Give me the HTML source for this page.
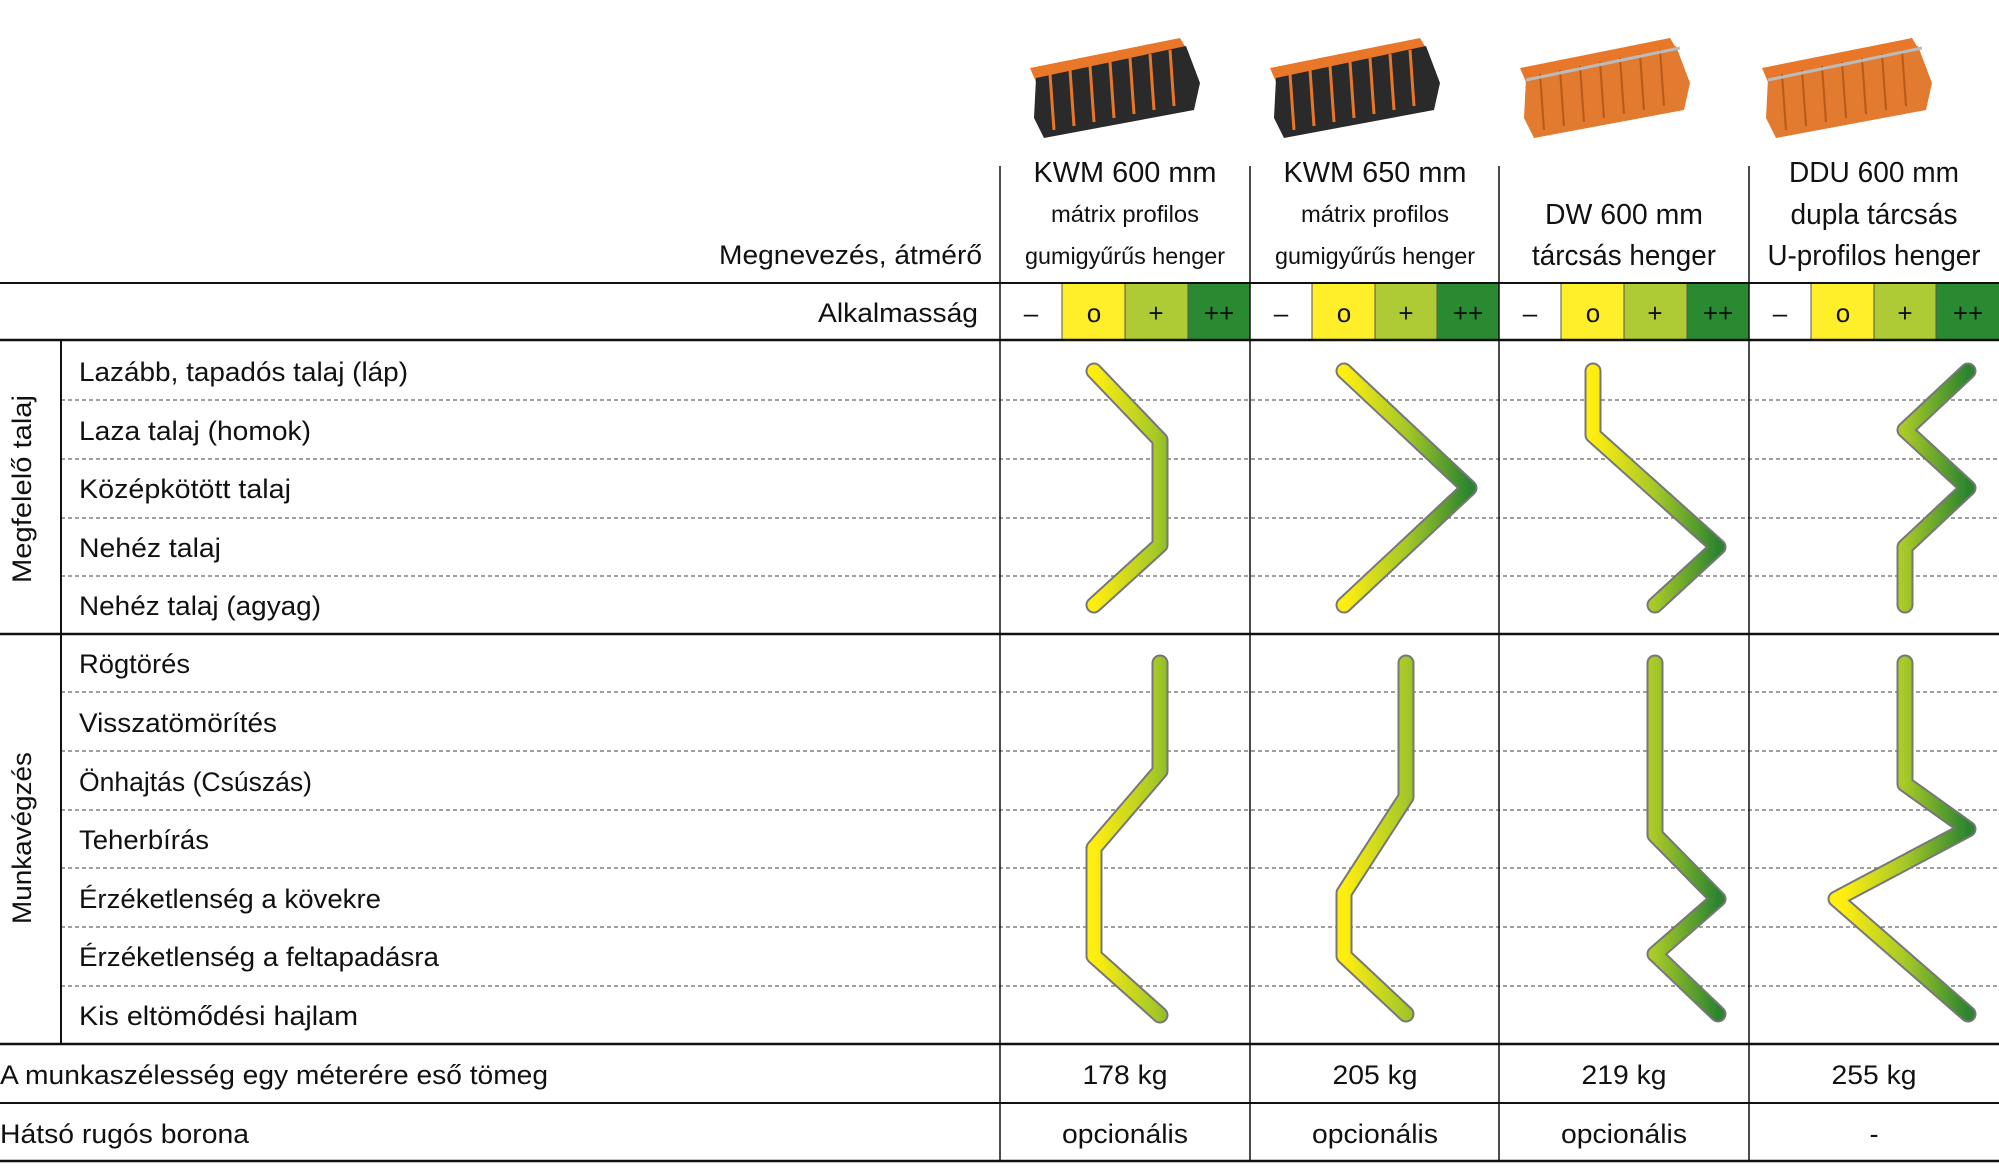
<!DOCTYPE html>
<html><head><meta charset="utf-8"><style>
html,body{margin:0;padding:0;background:#fff;}
svg{display:block;}
text{font-family:"Liberation Sans",sans-serif;fill:#111;}
</style></head><body>
<svg width="1999" height="1174" viewBox="0 0 1999 1174" xmlns="http://www.w3.org/2000/svg">
<defs>
<linearGradient id="g" x1="94" y1="0" x2="219" y2="0" gradientUnits="userSpaceOnUse">
<stop offset="0" stop-color="#ffee10"/><stop offset="0.5" stop-color="#a5c828"/><stop offset="1" stop-color="#2c8430"/>
</linearGradient>
<g id="roller">
<path d="M0,30 L150,0 L156,10 L6,44 Z" fill="#e8772a"/>
<path d="M6,40 L156,8 L170,45 L164,72 L14,100 L4,80 Z" fill="#2a2a2a"/>
<g stroke="#e8772a" stroke-width="3">
<line x1="20" y1="36" x2="24" y2="92"/><line x1="40" y1="32" x2="44" y2="88"/><line x1="60" y1="28" x2="64" y2="84"/><line x1="80" y1="24" x2="84" y2="80"/><line x1="100" y1="20" x2="104" y2="76"/><line x1="120" y1="16" x2="124" y2="72"/><line x1="140" y1="12" x2="144" y2="68"/>
</g>
</g>
<g id="rollerO">
<path d="M0,30 L150,0 L156,10 L6,44 Z" fill="#e8772a"/>
<path d="M6,40 L156,8 L170,45 L164,72 L14,100 L4,80 Z" fill="#e27a30"/>
<g stroke="#b85a18" stroke-width="2">
<line x1="20" y1="36" x2="24" y2="92"/><line x1="40" y1="32" x2="44" y2="88"/><line x1="60" y1="28" x2="64" y2="84"/><line x1="80" y1="24" x2="84" y2="80"/><line x1="100" y1="20" x2="104" y2="76"/><line x1="120" y1="16" x2="124" y2="72"/><line x1="140" y1="12" x2="144" y2="68"/>
</g>
<line x1="6" y1="42" x2="160" y2="10" stroke="#bbb" stroke-width="3"/>
</g>
</defs>

<!-- roller images -->
<use href="#roller" transform="translate(1030,38)"/>
<use href="#roller" transform="translate(1270,38)"/>
<use href="#rollerO" transform="translate(1520,38)"/>
<use href="#rollerO" transform="translate(1762,38)"/>

<!-- suitability bands -->
<g>
<rect x="1062" y="283" width="63" height="57" fill="#ffee2a"/><rect x="1125" y="283" width="63" height="57" fill="#aecb36"/><rect x="1188" y="283" width="62" height="57" fill="#2a8a32"/>
<rect x="1312" y="283" width="63" height="57" fill="#ffee2a"/><rect x="1375" y="283" width="62" height="57" fill="#aecb36"/><rect x="1437" y="283" width="62" height="57" fill="#2a8a32"/>
<rect x="1561" y="283" width="63" height="57" fill="#ffee2a"/><rect x="1624" y="283" width="63" height="57" fill="#aecb36"/><rect x="1687" y="283" width="62" height="57" fill="#2a8a32"/>
<rect x="1811" y="283" width="63" height="57" fill="#ffee2a"/><rect x="1874" y="283" width="62" height="57" fill="#aecb36"/><rect x="1936" y="283" width="63" height="57" fill="#2a8a32"/>
</g>
<g stroke="#555" stroke-width="1">
<line x1="1062" y1="283" x2="1062" y2="340"/><line x1="1125" y1="283" x2="1125" y2="340"/><line x1="1188" y1="283" x2="1188" y2="340"/>
<line x1="1312" y1="283" x2="1312" y2="340"/><line x1="1375" y1="283" x2="1375" y2="340"/><line x1="1437" y1="283" x2="1437" y2="340"/>
<line x1="1561" y1="283" x2="1561" y2="340"/><line x1="1624" y1="283" x2="1624" y2="340"/><line x1="1687" y1="283" x2="1687" y2="340"/>
<line x1="1811" y1="283" x2="1811" y2="340"/><line x1="1874" y1="283" x2="1874" y2="340"/><line x1="1936" y1="283" x2="1936" y2="340"/>
</g>
<g font-size="26" text-anchor="middle">
<text x="1031" y="322">–</text><text x="1094" y="322">o</text><text x="1156" y="322">+</text><text x="1219" y="322">++</text>
<text x="1281" y="322">–</text><text x="1344" y="322">o</text><text x="1406" y="322">+</text><text x="1468" y="322">++</text>
<text x="1530" y="322">–</text><text x="1593" y="322">o</text><text x="1655" y="322">+</text><text x="1718" y="322">++</text>
<text x="1780" y="322">–</text><text x="1843" y="322">o</text><text x="1905" y="322">+</text><text x="1968" y="322">++</text>
</g>

<!-- dashed lines -->
<g stroke="#666" stroke-width="1.3" stroke-dasharray="4,3">
<line x1="61" y1="400" x2="1999" y2="400"/><line x1="61" y1="459" x2="1999" y2="459"/><line x1="61" y1="518" x2="1999" y2="518"/><line x1="61" y1="576" x2="1999" y2="576"/>
<line x1="61" y1="692" x2="1999" y2="692"/><line x1="61" y1="751" x2="1999" y2="751"/><line x1="61" y1="810" x2="1999" y2="810"/><line x1="61" y1="868" x2="1999" y2="868"/><line x1="61" y1="927" x2="1999" y2="927"/><line x1="61" y1="986" x2="1999" y2="986"/>
</g>

<!-- solid lines -->
<g stroke="#111" stroke-width="2">
<line x1="0" y1="283" x2="1999" y2="283"/><line x1="0" y1="340" x2="1999" y2="340" stroke-width="2.5"/>
<line x1="0" y1="634" x2="1999" y2="634" stroke-width="2.5"/>
<line x1="0" y1="1044" x2="1999" y2="1044" stroke-width="2.5"/><line x1="0" y1="1103" x2="1999" y2="1103"/><line x1="0" y1="1161" x2="1999" y2="1161" stroke-width="2.5"/>
<line x1="61" y1="340" x2="61" y2="1044"/>
</g>
<g stroke="#111" stroke-width="1.5">
<line x1="1000" y1="166" x2="1000" y2="1161"/><line x1="1250" y1="166" x2="1250" y2="1161"/><line x1="1499" y1="166" x2="1499" y2="1161"/><line x1="1749" y1="166" x2="1749" y2="1161"/>
</g>

<!-- curves -->
<g fill="none" stroke-linecap="round" stroke-linejoin="round">
<g stroke="#777" stroke-width="17">
<path id="c1" d="M1094,371 L1160,440 L1160,545 L1094,605"/>
<path d="M1344,371 L1469,488 L1344,605"/>
<path d="M1593,371 L1593,435 L1718,547 L1655,605"/>
<path d="M1968,371 L1905,430 L1968,488 L1905,547 L1905,605"/>
<path d="M1160,663 L1160,771 L1094,848 L1094,956 L1160,1015"/>
<path d="M1406,663 L1406,797 L1344,893 L1344,956 L1406,1014"/>
<path d="M1655,663 L1655,835 L1718,899 L1655,954 L1718,1014"/>
<path d="M1905,663 L1905,784 L1968,829 L1836,899 L1968,1014"/>
</g>
<g stroke-width="13">
<path stroke="url(#g)" transform="translate(0,0)" d="M1094,371 L1160,440 L1160,545 L1094,605" style="stroke:url(#g1)"/>
</g>
</g>
<defs>
<linearGradient id="g1" x1="1094" y1="0" x2="1219" y2="0" gradientUnits="userSpaceOnUse"><stop offset="0" stop-color="#ffee10"/><stop offset="0.5" stop-color="#a5c828"/><stop offset="1" stop-color="#2c8430"/></linearGradient>
<linearGradient id="g2" x1="1344" y1="0" x2="1469" y2="0" gradientUnits="userSpaceOnUse"><stop offset="0" stop-color="#ffee10"/><stop offset="0.5" stop-color="#a5c828"/><stop offset="1" stop-color="#2c8430"/></linearGradient>
<linearGradient id="g3" x1="1593" y1="0" x2="1718" y2="0" gradientUnits="userSpaceOnUse"><stop offset="0" stop-color="#ffee10"/><stop offset="0.5" stop-color="#a5c828"/><stop offset="1" stop-color="#2c8430"/></linearGradient>
<linearGradient id="g4" x1="1843" y1="0" x2="1968" y2="0" gradientUnits="userSpaceOnUse"><stop offset="0" stop-color="#ffee10"/><stop offset="0.5" stop-color="#a5c828"/><stop offset="1" stop-color="#2c8430"/></linearGradient>
</defs>
<g fill="none" stroke-linecap="round" stroke-linejoin="round" stroke-width="13">
<path stroke="url(#g2)" d="M1344,371 L1469,488 L1344,605"/>
<path stroke="url(#g3)" d="M1593,371 L1593,435 L1718,547 L1655,605"/>
<path stroke="url(#g4)" d="M1968,371 L1905,430 L1968,488 L1905,547 L1905,605"/>
<path stroke="url(#g1)" d="M1160,663 L1160,771 L1094,848 L1094,956 L1160,1015"/>
<path stroke="url(#g2)" d="M1406,663 L1406,797 L1344,893 L1344,956 L1406,1014"/>
<path stroke="url(#g3)" d="M1655,663 L1655,835 L1718,899 L1655,954 L1718,1014"/>
<path stroke="url(#g4)" d="M1905,663 L1905,784 L1968,829 L1836,899 L1968,1014"/>
</g>

<!-- headers -->
<g font-size="29" text-anchor="middle" lengthAdjust="spacingAndGlyphs">
<text x="1125" y="182" textLength="183" lengthAdjust="spacingAndGlyphs">KWM 600 mm</text>
<text x="1375" y="182" textLength="183" lengthAdjust="spacingAndGlyphs">KWM 650 mm</text>
<text x="1874" y="182" textLength="170" lengthAdjust="spacingAndGlyphs">DDU 600 mm</text>
<text x="1624" y="224" textLength="158" lengthAdjust="spacingAndGlyphs">DW 600 mm</text>
<text x="1624" y="265" textLength="184" lengthAdjust="spacingAndGlyphs">tárcsás henger</text>
<text x="1874" y="224" textLength="167" lengthAdjust="spacingAndGlyphs">dupla tárcsás</text>
<text x="1874" y="265" textLength="213" lengthAdjust="spacingAndGlyphs">U-profilos henger</text>
</g>
<g font-size="23" text-anchor="middle">
<text x="1125" y="222" textLength="148" lengthAdjust="spacingAndGlyphs">mátrix profilos</text>
<text x="1125" y="264" textLength="200" lengthAdjust="spacingAndGlyphs">gumigyűrűs henger</text>
<text x="1375" y="222" textLength="148" lengthAdjust="spacingAndGlyphs">mátrix profilos</text>
<text x="1375" y="264" textLength="200" lengthAdjust="spacingAndGlyphs">gumigyűrűs henger</text>
</g>

<g font-size="27">
<text x="719" y="264" textLength="263" lengthAdjust="spacingAndGlyphs">Megnevezés, átmérő</text>
<text x="818" y="322" textLength="160" lengthAdjust="spacingAndGlyphs">Alkalmasság</text>
<text x="79" y="381" textLength="329" lengthAdjust="spacingAndGlyphs">Lazább, tapadós talaj (láp)</text>
<text x="79" y="440" textLength="232" lengthAdjust="spacingAndGlyphs">Laza talaj (homok)</text>
<text x="79" y="498" textLength="212" lengthAdjust="spacingAndGlyphs">Középkötött talaj</text>
<text x="79" y="557" textLength="142" lengthAdjust="spacingAndGlyphs">Nehéz talaj</text>
<text x="79" y="615" textLength="242" lengthAdjust="spacingAndGlyphs">Nehéz talaj (agyag)</text>
<text x="79" y="673" textLength="111" lengthAdjust="spacingAndGlyphs">Rögtörés</text>
<text x="79" y="732" textLength="198" lengthAdjust="spacingAndGlyphs">Visszatömörítés</text>
<text x="79" y="791" textLength="233" lengthAdjust="spacingAndGlyphs">Önhajtás (Csúszás)</text>
<text x="79" y="849" textLength="130" lengthAdjust="spacingAndGlyphs">Teherbírás</text>
<text x="79" y="908" textLength="302" lengthAdjust="spacingAndGlyphs">Érzéketlenség a kövekre</text>
<text x="79" y="966" textLength="360" lengthAdjust="spacingAndGlyphs">Érzéketlenség a feltapadásra</text>
<text x="79" y="1025" textLength="279" lengthAdjust="spacingAndGlyphs">Kis eltömődési hajlam</text>
<text x="0" y="1084" textLength="548" lengthAdjust="spacingAndGlyphs">A munkaszélesség egy méterére eső tömeg</text>
<text x="0" y="1143" textLength="249" lengthAdjust="spacingAndGlyphs">Hátsó rugós borona</text>
<text transform="translate(31,583) rotate(-90)" textLength="188" lengthAdjust="spacingAndGlyphs">Megfelelő talaj</text>
<text transform="translate(31,924) rotate(-90)" textLength="172" lengthAdjust="spacingAndGlyphs">Munkavégzés</text>
</g>
<g font-size="27" text-anchor="middle">
<text x="1125" y="1084" textLength="85" lengthAdjust="spacingAndGlyphs">178 kg</text>
<text x="1375" y="1084" textLength="85" lengthAdjust="spacingAndGlyphs">205 kg</text>
<text x="1624" y="1084" textLength="85" lengthAdjust="spacingAndGlyphs">219 kg</text>
<text x="1874" y="1084" textLength="85" lengthAdjust="spacingAndGlyphs">255 kg</text>
<text x="1125" y="1143" textLength="126" lengthAdjust="spacingAndGlyphs">opcionális</text>
<text x="1375" y="1143" textLength="126" lengthAdjust="spacingAndGlyphs">opcionális</text>
<text x="1624" y="1143" textLength="126" lengthAdjust="spacingAndGlyphs">opcionális</text>
<text x="1874" y="1143">-</text>
</g>
</svg>
</body></html>
